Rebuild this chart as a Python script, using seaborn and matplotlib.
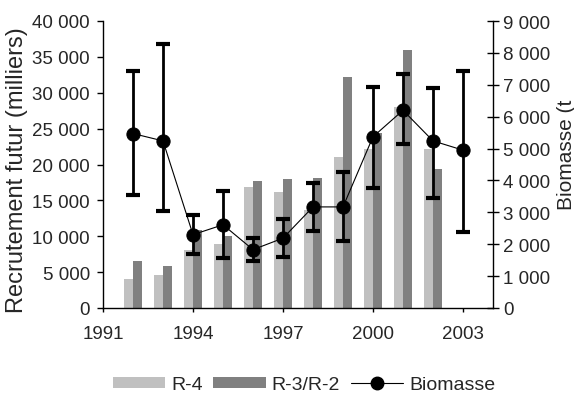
import numpy as np
import pandas as pd
import matplotlib
matplotlib.use("Agg")
import matplotlib.pyplot as plt
from matplotlib.ticker import FuncFormatter, MultipleLocator
from matplotlib.patches import Patch
from matplotlib.lines import Line2D
import seaborn as sns

# ---- data ----
bar_years = [1992, 1993, 1994, 1995, 1996, 1997, 1998, 1999, 2000, 2001, 2002]
r4 = [4000, 4600, 8100, 8900, 16900, 16200, 13600, 21000, 22200, 28000, 22200]
r3r2 = [6500, 5900, 10900, 10100, 17700, 18000, 18100, 32200, 24400, 35900, 19400]

bio_years = [1992, 1993, 1994, 1995, 1996, 1997, 1998, 1999, 2000, 2001, 2002, 2003]
biomasse = [5470, 5240, 2300, 2610, 1830, 2190, 3170, 3170, 5370, 6200, 5240, 4950]
bio_hi = [7420, 8270, 2920, 3660, 2190, 2800, 3920, 4270, 6940, 7350, 6910, 7430]
bio_lo = [3530, 3040, 1690, 1560, 1460, 1590, 2430, 2090, 3760, 5130, 3450, 2380]

series_names = ["R-4", "R-3/R-2"]
series_colors = ["#C0C0C0", "#808080"]
xticks_years = [1991, 1994, 1997, 2000, 2003]

# ---- style ----
sns.set_style("white")
plt.rcParams["font.family"] = ["Liberation Sans", "DejaVu Sans"]

W, H = 574, 402
fig = plt.figure(figsize=(W / 100, H / 100), dpi=100)
L, R, T, B = 103, 493, 22, 309
ax = fig.add_axes([L / W, 1 - B / H, (R - L) / W, (B - T) / H])

df = pd.DataFrame({
    "year": bar_years * 2,
    "value": r4 + r3r2,
    "series": [series_names[0]] * len(bar_years) + [series_names[1]] * len(bar_years),
})
sns.barplot(data=df, x="year", y="value", hue="series", hue_order=series_names,
            palette=series_colors, native_scale=True, width=0.6, gap=0,
            errorbar=None, legend=False, ax=ax, linewidth=0, saturation=1)

ax.set_xlim(1991, 2004)
ax.set_ylim(0, 40000)
ax.set_xticks(xticks_years)
ax.set_xticklabels([str(y) for y in xticks_years])
ax.yaxis.set_major_locator(MultipleLocator(5000))
fmt = FuncFormatter(lambda v, p: f"{int(v):,}".replace(",", " "))
ax.yaxis.set_major_formatter(fmt)
ax.set_xlabel("")
ax.set_ylabel("")
for s in ["top", "right"]:
    ax.spines[s].set_visible(False)
for s in ["left", "bottom"]:
    ax.spines[s].set_color("black")
    ax.spines[s].set_linewidth(1.0)
ax.tick_params(axis="y", direction="out", length=4.5, width=1, color="black",
               labelsize=13.5, pad=5, left=True)
ax.tick_params(axis="x", direction="out", length=3, width=1, color="black",
               labelsize=13.5, pad=9, bottom=True)

ax2 = ax.twinx()
ax2.errorbar(bio_years, biomasse,
             yerr=[np.array(biomasse) - np.array(bio_lo), np.array(bio_hi) - np.array(biomasse)],
             fmt="none", ecolor="black", elinewidth=2, capsize=5, capthick=3, zorder=2)
sns.lineplot(x=bio_years, y=biomasse, ax=ax2, color="black", linewidth=0.8,
             marker="o", markersize=9.5, markeredgecolor="black", zorder=3)
ax2.set_ylim(0, 9000)
ax2.set_xlim(1991, 2004)
ax2.yaxis.set_major_locator(MultipleLocator(1000))
ax2.yaxis.set_major_formatter(fmt)
ax2.set_ylabel("")
for s in ["top", "left", "bottom"]:
    ax2.spines[s].set_visible(False)
ax2.spines["right"].set_color("black")
ax2.spines["right"].set_linewidth(1.0)
ax2.tick_params(axis="y", direction="inout", length=8.5, width=1, color="black",
                labelsize=13.5, pad=3, right=True)

fig.text(17 / W, 1 - 170 / H, "Recrutement futur (milliers)", rotation=90,
         ha="center", va="center", fontsize=17)
fig.text(566 / W, 1 - 155 / H, "Biomasse (t", rotation=90,
         ha="center", va="center", fontsize=15)

handles = [
    Patch(facecolor=series_colors[0], edgecolor="none", label=series_names[0]),
    Patch(facecolor=series_colors[1], edgecolor="none", label=series_names[1]),
    Line2D([0], [0], color="black", linewidth=0.8, marker="o", markersize=9, label="Biomasse"),
]
fig.legend(handles=handles, loc="center", bbox_to_anchor=(304 / W, 1 - 386 / H),
           ncol=3, frameon=False, fontsize=14, handlelength=2.7, handleheight=0.55,
           handletextpad=0.3, columnspacing=0.55, borderaxespad=0, borderpad=0)

fig.savefig("out.png", dpi=100)
